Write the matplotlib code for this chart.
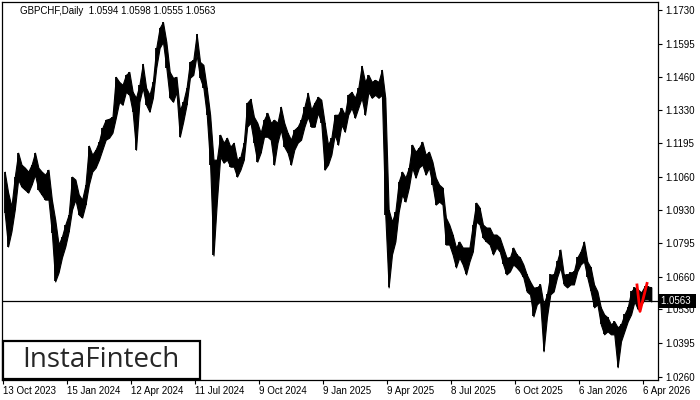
import numpy as np
import matplotlib.pyplot as plt
import matplotlib.transforms as mtransforms
from matplotlib.patches import Rectangle

plt.rcParams['font.family'] = ['Liberation Sans', 'DejaVu Sans']

titulo = 'GBPCHF,Daily  1.0594 1.0598 1.0555 1.0563'
precio_actual = 1.0563
n_barras = 650          # velas diarias visibles
cada_etiqueta = 64      # barras entre fechas del eje

# maximo / minimo de cada grupo de ~3 velas diarias
grupo_max = [
    1.1082, 1.1000, 1.0942, 1.1062, 1.1158, 1.1110, 1.1098, 1.1082, 1.1110, 1.1158,
    1.1098, 1.1082, 1.1070, 1.1090, 1.0970, 1.0890, 1.0790, 1.0822, 1.0870, 1.0910,
    1.1062, 1.1050, 1.0990, 1.0970, 1.1030, 1.1186, 1.1150, 1.1170, 1.1202, 1.1258,
    1.1290, 1.1294, 1.1302, 1.1462, 1.1442, 1.1430, 1.1470, 1.1482, 1.1402, 1.1378,
    1.1430, 1.1514, 1.1418, 1.1390, 1.1442, 1.1578, 1.1658, 1.1682, 1.1602, 1.1482,
    1.1458, 1.1462, 1.1330, 1.1362, 1.1418, 1.1522, 1.1530, 1.1634, 1.1522, 1.1510,
    1.1418, 1.1310, 1.1130, 1.1130, 1.1230, 1.1198, 1.1218, 1.1182, 1.1198, 1.1130,
    1.1142, 1.1198, 1.1358, 1.1374, 1.1302, 1.1278, 1.1238, 1.1290, 1.1318, 1.1278,
    1.1290, 1.1278, 1.1342, 1.1278, 1.1238, 1.1210, 1.1250, 1.1262, 1.1290, 1.1342,
    1.1398, 1.1330, 1.1358, 1.1382, 1.1370, 1.1278, 1.1190, 1.1218, 1.1310, 1.1310,
    1.1338, 1.1310, 1.1390, 1.1402, 1.1378, 1.1418, 1.1506, 1.1442, 1.1470, 1.1442,
    1.1450, 1.1442, 1.1490, 1.1378, 1.0930, 1.0882, 1.0922, 1.1042, 1.1082, 1.1058,
    1.1098, 1.1190, 1.1162, 1.1178, 1.1202, 1.1150, 1.1162, 1.1122, 1.1058, 1.1030,
    1.1018, 1.0898, 1.0870, 1.0830, 1.0778, 1.0802, 1.0778, 1.0778, 1.0778, 1.0870,
    1.0958, 1.0938, 1.0870, 1.0858, 1.0858, 1.0830, 1.0830, 1.0818, 1.0778, 1.0738,
    1.0738, 1.0778, 1.0750, 1.0738, 1.0710, 1.0670, 1.0642, 1.0618, 1.0618, 1.0630,
    1.0550, 1.0590, 1.0670, 1.0670, 1.0722, 1.0770, 1.0670, 1.0670, 1.0678, 1.0682,
    1.0738, 1.0762, 1.0802, 1.0722, 1.0698, 1.0630, 1.0602, 1.0538, 1.0510, 1.0498,
    1.0470, 1.0482, 1.0458, 1.0470, 1.0510, 1.0538, 1.0602, 1.0618, 1.0610, 1.0598,
    1.0622, 1.0622, 1.0618,
]
grupo_min = [
    1.0918, 1.0782, 1.0842, 1.0930, 1.1050, 1.1022, 1.1010, 1.0998, 1.1030, 1.1070,
    1.1010, 1.0990, 1.0970, 1.0970, 1.0838, 1.0642, 1.0678, 1.0738, 1.0782, 1.0842,
    1.0930, 1.0970, 1.0910, 1.0898, 1.0950, 1.1030, 1.1082, 1.1098, 1.1130, 1.1170,
    1.1210, 1.1218, 1.1238, 1.1298, 1.1362, 1.1350, 1.1402, 1.1390, 1.1322, 1.1170,
    1.1362, 1.1418, 1.1350, 1.1322, 1.1378, 1.1498, 1.1578, 1.1602, 1.1498, 1.1378,
    1.1362, 1.1402, 1.1222, 1.1282, 1.1350, 1.1458, 1.1470, 1.1550, 1.1458, 1.1418,
    1.1310, 1.1110, 1.0746, 1.0962, 1.1142, 1.1118, 1.1130, 1.1102, 1.1102, 1.1062,
    1.1090, 1.1130, 1.1262, 1.1278, 1.1198, 1.1122, 1.1158, 1.1222, 1.1222, 1.1210,
    1.1110, 1.1198, 1.1250, 1.1182, 1.1158, 1.1110, 1.1170, 1.1198, 1.1210, 1.1262,
    1.1302, 1.1262, 1.1262, 1.1318, 1.1278, 1.1090, 1.1110, 1.1150, 1.1230, 1.1190,
    1.1270, 1.1242, 1.1310, 1.1338, 1.1298, 1.1338, 1.1378, 1.1310, 1.1402, 1.1378,
    1.1390, 1.1378, 1.1390, 1.0910, 1.0618, 1.0750, 1.0802, 1.0922, 1.0990, 1.0962,
    1.1018, 1.1098, 1.1058, 1.1098, 1.1110, 1.1070, 1.1098, 1.1030, 1.0950, 1.0962,
    1.0950, 1.0790, 1.0790, 1.0750, 1.0698, 1.0738, 1.0710, 1.0670, 1.0722, 1.0762,
    1.0882, 1.0870, 1.0818, 1.0802, 1.0790, 1.0750, 1.0778, 1.0762, 1.0710, 1.0670,
    1.0682, 1.0710, 1.0698, 1.0682, 1.0658, 1.0602, 1.0590, 1.0502, 1.0550, 1.0562,
    1.0362, 1.0498, 1.0590, 1.0602, 1.0658, 1.0698, 1.0630, 1.0618, 1.0630, 1.0630,
    1.0682, 1.0710, 1.0722, 1.0658, 1.0602, 1.0538, 1.0550, 1.0470, 1.0430, 1.0442,
    1.0430, 1.0430, 1.0298, 1.0402, 1.0442, 1.0482, 1.0510, 1.0562, 1.0530, 1.0550,
    1.0570, 1.0570, 1.0562,
]

fechas = ['13 Oct 2023', '15 Jan 2024', '12 Apr 2024', '11 Jul 2024', '9 Oct 2024',
          '9 Jan 2025', '9 Apr 2025', '8 Jul 2025', '6 Oct 2025', '6 Jan 2026', '6 Apr 2026']
niveles = [1.1730, 1.1595, 1.1460, 1.1330, 1.1195, 1.1060, 1.0930, 1.0795,
           1.0660, 1.0530, 1.0395, 1.0260]

# patron marcado en rojo (barra, precio)
patron_barra = [634, 637, 644]
patron_precio = [1.0628, 1.0522, 1.0634]

fig = plt.figure(figsize=(7, 4), dpi=100)
ax = fig.add_axes([2 / 700, 20 / 400, 656 / 700, 378 / 400])

hi = np.array(grupo_max)
lo = np.array(grupo_min)
paso = n_barras / len(hi)
x = (np.arange(len(hi)) + 0.5) * paso
# banda continua entre maximos y minimos + barras finas en cada grupo
ax.fill_between(x, lo, hi, color='black', linewidth=0.8, zorder=2)
ax.vlines(x, lo, hi, color='black', linewidth=1.3, zorder=2)
ax.plot(patron_barra, patron_precio, color='#ff0000', lw=2, zorder=3)

ax.axhline(precio_actual, color='black', lw=0.9, zorder=1)

ax.set_xlim(-1, 655)
ax.set_ylim(1.0247, 1.1762)

ax.set_xticks(np.arange(len(fechas)) * cada_etiqueta)
ax.set_xticklabels(fechas)
for lbl in ax.get_xticklabels():
    lbl.set_horizontalalignment('left')
ax.yaxis.tick_right()
ax.set_yticks(niveles)
ax.set_yticklabels([f'{v:.4f}' for v in niveles])
ax.tick_params(axis='both', direction='out', length=3, width=0.8, labelsize=7, colors='black')
ax.tick_params(axis='x', pad=1)
ax.tick_params(axis='y', pad=2)
for s in ax.spines.values():
    s.set_linewidth(0.9)
    s.set_color('black')

ax.text(18 / 656, 1 - 9 / 378, titulo, transform=ax.transAxes, fontsize=7,
        va='center', ha='left', color='black')

# etiqueta del precio actual
trans = mtransforms.blended_transform_factory(ax.transAxes, ax.transData)
ax.text(1.005, precio_actual, '1.0563 ', transform=trans, fontsize=7, color='white',
        va='center', ha='left', clip_on=False, zorder=5,
        bbox=dict(facecolor='black', edgecolor='none', pad=1.6))

# logo
fig.add_artist(Rectangle((3 / 700, 21 / 400), 197 / 700, 38 / 400, transform=fig.transFigure,
                         facecolor='white', edgecolor='black', linewidth=1.6, zorder=10))
fig.text(22 / 700, 40 / 400, 'InstaFintech', fontsize=20, family=['Open Sans', 'DejaVu Sans'],
         color='#262626', va='center', ha='left', zorder=11)

fig.savefig('out.png', dpi=100)
